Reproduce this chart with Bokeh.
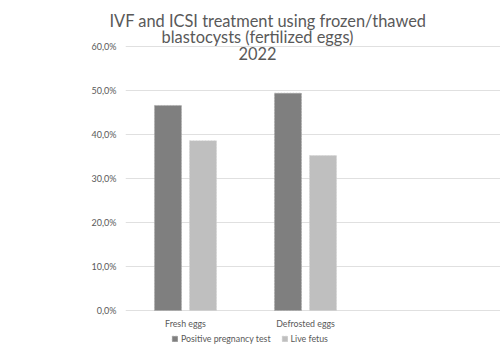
from bokeh.plotting import figure
from bokeh.models import (ColumnDataSource, FixedTicker, CustomJSTickFormatter, Label,
                          Legend, LegendItem, Range1d, Title)
from bokeh.core.properties import value
from bokeh.embed import file_html
from bokeh.resources import INLINE

categories = ["Fresh eggs", "Defrosted eggs"]
positive_test = [46.6, 49.4]
live_fetus = [38.6, 35.2]
y_ticks = [0, 10, 20, 30, 40, 50, 60]
title_lines = ["IVF and ICSI treatment using frozen/thawed",
               "blastocysts (fertilized eggs)",
               "2022"]
series_names = ["Positive pregnancy test", "Live fetus"]
colors = ["#7f7f7f", "#bfbfbf"]

FONT = "Lato"
TXT = "#595959"
idx = list(range(len(categories)))
off = 0.146
bw = 0.225
PXU = 4.4  # pixels per percentage point

src = ColumnDataSource(dict(
    x1=[i - off for i in idx], x2=[i + off for i in idx],
    pos=positive_test, live=live_fetus))

p = figure(width=500, height=356, output_backend="svg", toolbar_location=None,
           x_range=Range1d(-0.5, 2.625),
           y_range=Range1d(-46 / PXU, 280 / PXU),
           min_border_left=125, min_border_right=0, min_border_top=30,
           min_border_bottom=0)
p.outline_line_color = None
p.background_fill_color = "white"
p.border_fill_color = "white"

t = Title(text=title_lines[0], align="left", offset=-16, text_font=FONT,
          text_font_size="16.4px", text_font_style="normal", text_color=TXT, standoff=1)
p.add_layout(t, "above")

r1 = p.vbar(x="x1", top="pos", width=bw, source=src, fill_color=colors[0],
            line_color="#a6a6a6", line_width=0.6, line_dash="2 1")
r2 = p.vbar(x="x2", top="live", width=bw, source=src, fill_color=colors[1],
            line_color="#d0d0d0", line_width=0.6, line_dash="2 1")

p.xgrid.grid_line_color = None
p.ygrid.grid_line_color = "#e0e0e0"
p.ygrid.grid_line_width = 1
p.yaxis.ticker = FixedTicker(ticks=y_ticks)
p.yaxis.formatter = CustomJSTickFormatter(code="return tick.toFixed(1).replace('.', ',') + '%';")
p.yaxis.axis_line_color = None
p.yaxis.major_tick_line_color = None
p.yaxis.minor_tick_line_color = None
p.yaxis.major_label_text_font = FONT
p.yaxis.major_label_text_font_size = "9px"
p.yaxis.major_label_text_color = TXT
p.yaxis.major_label_standoff = 3
p.xaxis.visible = False

# category labels under the baseline
lab_src = ColumnDataSource(dict(x=idx, y=[-13 / PXU] * len(idx), t=categories))
p.text(x="x", y="y", text="t", source=lab_src, text_align="center", text_baseline="middle",
       text_font=value(FONT), text_font_size="8.8px", text_color=TXT)

for i, tl in enumerate(title_lines[1:]):
    p.add_layout(Label(x=257 - 125, y=(356 - 30) - (36 - 30) - i * 16.5,
                       x_units="screen", y_units="screen",
                       text=tl, text_align="center", text_baseline="middle",
                       text_font=FONT, text_font_size="16.4px", text_color=TXT))

legend = Legend(items=[LegendItem(label=series_names[0], renderers=[r1]),
                       LegendItem(label=series_names[1], renderers=[r2])],
                orientation="horizontal", location=(46, 12),
                label_text_font=FONT, label_text_font_size="8.8px",
                label_text_color=TXT, glyph_width=7, glyph_height=7,
                label_standoff=3, spacing=10, padding=0, margin=0,
                background_fill_alpha=0, border_line_color=None,
                label_height=10)
p.add_layout(legend)

open("out.html", "w").write(file_html(p, INLINE))
